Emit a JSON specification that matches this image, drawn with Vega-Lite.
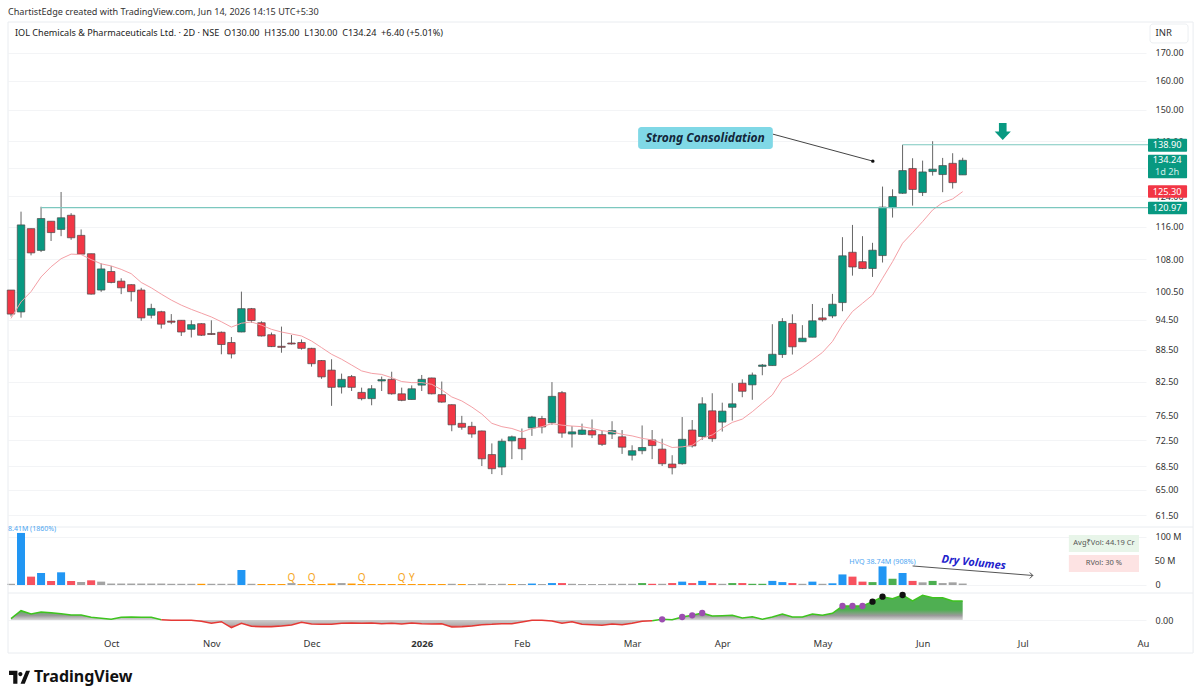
{"$schema":"https://vega.github.io/schema/vega-lite/v6.json","background":"white","padding":{"left":6,"top":0,"right":0,"bottom":0},"bounds":"flush","spacing":0,"config":{"font":"Noto Sans","view":{"stroke":null},"concat":{"spacing":0}},
"datasets":{"ohlc":[
{"i":0,"o":100.9,"h":100.9,"l":95.2,"c":95.7,"ma":94.8},{"i":1,"o":96.15,"h":119.9,"l":94.95,"c":116.45,"ma":98.3},{"i":2,"o":115.5,"h":115.5,"l":108.9,"c":109.5,"ma":100.55},{"i":3,"o":110.1,"h":121.2,"l":109.7,"c":118.1,"ma":103.85},{"i":4,"o":117.4,"h":117.4,"l":112.4,"c":114.5,"ma":106.2},{"i":5,"o":115.3,"h":125.2,"l":113.6,"c":118.3,"ma":108.1},{"i":6,"o":118.95,"h":119.5,"l":112.7,"c":113.2,"ma":109.2},{"i":7,"o":113.8,"h":115.3,"l":109.1,"c":109.2,"ma":109.1},{"i":8,"o":109.3,"h":109.3,"l":99.9,"c":100,"ma":107.9},{"i":9,"o":100.9,"h":107,"l":100.5,"c":105.7,"ma":106.9},
{"i":10,"o":105.1,"h":106.4,"l":102.4,"c":102.6,"ma":106.4},{"i":11,"o":102.9,"h":103.55,"l":100,"c":101.4,"ma":105.6},{"i":12,"o":102.1,"h":102.2,"l":98.4,"c":100.55,"ma":104.6},{"i":13,"o":100.9,"h":101.4,"l":94.3,"c":94.9,"ma":102.6},{"i":14,"o":95.45,"h":97.9,"l":94.8,"c":96.9,"ma":101.4},{"i":15,"o":96.2,"h":96.4,"l":92.7,"c":93.6,"ma":100},{"i":16,"o":94.25,"h":95.7,"l":93.6,"c":94,"ma":98.7},{"i":17,"o":94.4,"h":94.4,"l":91.2,"c":92,"ma":97.6},{"i":18,"o":92.55,"h":94.4,"l":90.9,"c":93.5,"ma":96.7},{"i":19,"o":93.7,"h":93.8,"l":91.2,"c":91.35,"ma":95.9},
{"i":20,"o":91.7,"h":94.4,"l":91.4,"c":91.5,"ma":95.1},{"i":21,"o":91.95,"h":92.1,"l":87.6,"c":89.5,"ma":94.1},{"i":22,"o":89.9,"h":91,"l":86.8,"c":87.65,"ma":93},{"i":23,"o":92,"h":100.55,"l":91.95,"c":96.85,"ma":93.8},{"i":24,"o":96.85,"h":97,"l":93.9,"c":94.35,"ma":94.05},{"i":25,"o":93.9,"h":94.2,"l":91.1,"c":91.2,"ma":93.4},{"i":26,"o":91.45,"h":91.9,"l":89,"c":89.1,"ma":92.55},{"i":27,"o":89.15,"h":93.1,"l":87.9,"c":88.95,"ma":92},{"i":28,"o":89.8,"h":91.4,"l":89.5,"c":89.6,"ma":91.6},{"i":29,"o":89.9,"h":90.5,"l":88.5,"c":88.75,"ma":91.2},
{"i":30,"o":88.75,"h":88.85,"l":85.25,"c":85.8,"ma":90.2},{"i":31,"o":86.4,"h":86.5,"l":83,"c":83.35,"ma":88.9},{"i":32,"o":84.6,"h":86.65,"l":78.2,"c":81.45,"ma":87.6},{"i":33,"o":81.5,"h":83.95,"l":80.35,"c":82.9,"ma":86.65},{"i":34,"o":83.4,"h":83.7,"l":80.8,"c":81.45,"ma":85.55},{"i":35,"o":80.55,"h":81.4,"l":79.15,"c":79.45,"ma":84.45},{"i":36,"o":79.45,"h":81.85,"l":78.3,"c":81.2,"ma":84},{"i":37,"o":82.6,"h":83.4,"l":80.8,"c":82.85,"ma":83.8},{"i":38,"o":82.9,"h":84.3,"l":80.15,"c":80.3,"ma":83.2},{"i":39,"o":80.3,"h":81.4,"l":79,"c":79.15,"ma":82.5},
{"i":40,"o":79.3,"h":81.8,"l":79.3,"c":81.2,"ma":82.3},{"i":41,"o":81.85,"h":83.7,"l":80.8,"c":82.9,"ma":82.3},{"i":42,"o":83.15,"h":83.2,"l":80.2,"c":80.3,"ma":82},{"i":43,"o":80.15,"h":82.5,"l":78.75,"c":78.85,"ma":81},{"i":44,"o":78.4,"h":78.45,"l":73.95,"c":75,"ma":79.75},{"i":45,"o":75.25,"h":76.5,"l":74.2,"c":74.6,"ma":79.05},{"i":46,"o":74.75,"h":75.5,"l":72.9,"c":73.5,"ma":78},{"i":47,"o":74,"h":74.05,"l":68.5,"c":69.6,"ma":76.8},{"i":48,"o":70.25,"h":72,"l":67.3,"c":68.1,"ma":75.25},{"i":49,"o":68.35,"h":72.75,"l":67.15,"c":72.35,"ma":74.7},
{"i":50,"o":72.4,"h":73.25,"l":69.55,"c":73.05,"ma":74.4},{"i":51,"o":72.8,"h":74.4,"l":69.4,"c":71.15,"ma":73.85},{"i":52,"o":74.5,"h":76.5,"l":73.2,"c":76.3,"ma":74.4},{"i":53,"o":76.05,"h":76.5,"l":73.6,"c":74.65,"ma":74.7},{"i":54,"o":75.35,"h":82.4,"l":75,"c":79.85,"ma":75.2},{"i":55,"o":80.5,"h":80.8,"l":72.9,"c":73.65,"ma":74.95},{"i":56,"o":73.5,"h":74.8,"l":71.35,"c":73.85,"ma":74.8},{"i":57,"o":73.45,"h":75.2,"l":73.35,"c":74.15,"ma":74.7},{"i":58,"o":74.05,"h":75.9,"l":72.85,"c":73.35,"ma":74.4},{"i":59,"o":73.4,"h":74,"l":71.6,"c":71.85,"ma":74.05},
{"i":60,"o":73.5,"h":75.6,"l":72.7,"c":74.05,"ma":73.85},{"i":61,"o":73.05,"h":74.15,"l":70.35,"c":71.4,"ma":73.45},{"i":62,"o":70.15,"h":71.7,"l":69.35,"c":70.85,"ma":73.2},{"i":63,"o":70.85,"h":74.9,"l":70.3,"c":71.35,"ma":72.8},{"i":64,"o":72.55,"h":74.15,"l":69.55,"c":71.65,"ma":72.55},{"i":65,"o":71.1,"h":72.75,"l":68.5,"c":68.85,"ma":72},{"i":66,"o":68.8,"h":70.15,"l":67.25,"c":68.25,"ma":71.35},{"i":67,"o":68.85,"h":76.3,"l":68.7,"c":72.65,"ma":71.45},{"i":68,"o":74.15,"h":75.8,"l":71.35,"c":71.6,"ma":71.7},{"i":69,"o":73.1,"h":79.7,"l":72.55,"c":78.55,"ma":72.8},
{"i":70,"o":77.35,"h":80.4,"l":72.25,"c":72.75,"ma":73.35},{"i":71,"o":75.45,"h":78.75,"l":73.9,"c":77.3,"ma":74.45},{"i":72,"o":77.95,"h":82.2,"l":75.7,"c":78.55,"ma":75.4},{"i":73,"o":82.2,"h":82.9,"l":79.7,"c":80.75,"ma":75.95},{"i":74,"o":81.9,"h":84.15,"l":79.25,"c":83.7,"ma":77.2},{"i":75,"o":85.3,"h":85.75,"l":83.65,"c":85.55,"ma":78.65},{"i":76,"o":85.45,"h":93.6,"l":85.45,"c":87.6,"ma":80.1},{"i":77,"o":87.55,"h":94.85,"l":86.9,"c":94.15,"ma":82.9},{"i":78,"o":93.75,"h":95.65,"l":87.55,"c":89.05,"ma":83.9},{"i":79,"o":90.05,"h":93.4,"l":90.05,"c":90.75,"ma":85.15},
{"i":80,"o":90.95,"h":97.85,"l":90.95,"c":94.3,"ma":86.5},{"i":81,"o":94.9,"h":97,"l":94.15,"c":94.5,"ma":87.95},{"i":82,"o":95.3,"h":100.05,"l":94.85,"c":97.8,"ma":90.1},{"i":83,"o":98.15,"h":113.35,"l":96.3,"c":108.8,"ma":93.45},{"i":84,"o":109.65,"h":116.45,"l":104.15,"c":106.15,"ma":96.25},{"i":85,"o":107.4,"h":113.6,"l":105.65,"c":105.8,"ma":98},{"i":86,"o":105.8,"h":111.95,"l":103.85,"c":110.15,"ma":99.8},{"i":87,"o":108.85,"h":126.7,"l":107.2,"c":121.1,"ma":103.55},{"i":88,"o":120.97,"h":125.95,"l":118.35,"c":123.95,"ma":107.4},{"i":89,"o":124.85,"h":138.9,"l":124.7,"c":131.25,"ma":111.85},
{"i":90,"o":131.85,"h":134.85,"l":121.5,"c":125.9,"ma":114.5},{"i":91,"o":125.05,"h":134.15,"l":124.1,"c":130.85,"ma":117.3},{"i":92,"o":130.95,"h":140,"l":129.8,"c":131.65,"ma":120.35},{"i":93,"o":130.1,"h":134.95,"l":125.15,"c":132.7,"ma":122.3},{"i":94,"o":133.35,"h":136.35,"l":126.15,"c":127.8,"ma":123.3},{"i":95,"o":130,"h":135,"l":130,"c":134.24,"ma":125.3}],
"vol":[{"i":0,"v":2.5,"k":"flat"},{"i":1,"v":108.4,"k":"hi"},{"i":2,"v":17.4,"k":"dn"},{"i":3,"v":25,"k":"hi"},{"i":4,"v":8.3,"k":"dn"},{"i":5,"v":26.4,"k":"hi"},{"i":6,"v":8.3,"k":"dn"},{"i":7,"v":6.2,"k":"flat"},{"i":8,"v":9.7,"k":"dn"},{"i":9,"v":7,"k":"flat"},{"i":10,"v":3,"k":"flat"},{"i":11,"v":3,"k":"flat"},{"i":12,"v":3,"k":"flat"},{"i":13,"v":3,"k":"flat"},{"i":14,"v":3,"k":"flat"},{"i":15,"v":3,"k":"flat"},{"i":16,"v":2.5,"k":"flat"},{"i":17,"v":2.5,"k":"flat"},{"i":18,"v":2.5,"k":"flat"},{"i":19,"v":2.5,"k":"dry"},{"i":20,"v":2.5,"k":"flat"},{"i":21,"v":2.5,"k":"flat"},{"i":22,"v":2.5,"k":"flat"},{"i":23,"v":31.2,"k":"hi"},{"i":24,"v":2.5,"k":"flat"},{"i":25,"v":2,"k":"dry"},{"i":26,"v":2,"k":"dry"},{"i":27,"v":2,"k":"dry"},{"i":28,"v":4,"k":"flat"},{"i":29,"v":2,"k":"dry"},{"i":30,"v":2,"k":"dry"},{"i":31,"v":2,"k":"dry"},{"i":32,"v":3,"k":"dry"},{"i":33,"v":4,"k":"flat"},{"i":34,"v":3,"k":"dry"},{"i":35,"v":2,"k":"dry"},{"i":36,"v":2,"k":"dry"},{"i":37,"v":2,"k":"dry"},{"i":38,"v":2,"k":"dry"},{"i":39,"v":2,"k":"dry"},{"i":40,"v":2,"k":"dry"},{"i":41,"v":2,"k":"dry"},{"i":42,"v":2,"k":"dry"},{"i":43,"v":2,"k":"dry"},{"i":44,"v":2.5,"k":"flat"},{"i":45,"v":2,"k":"dry"},{"i":46,"v":2,"k":"flat"},{"i":47,"v":3,"k":"flat"},{"i":48,"v":2,"k":"flat"},{"i":49,"v":2.5,"k":"flat"},{"i":50,"v":2,"k":"dry"},{"i":51,"v":2,"k":"flat"},{"i":52,"v":3,"k":"hi"},{"i":53,"v":2,"k":"flat"},{"i":54,"v":4,"k":"hi"},{"i":55,"v":4,"k":"dn"},{"i":56,"v":2.5,"k":"flat"},{"i":57,"v":2,"k":"flat"},{"i":58,"v":2,"k":"flat"},{"i":59,"v":2,"k":"flat"},{"i":60,"v":2.5,"k":"flat"},{"i":61,"v":2.5,"k":"flat"},{"i":62,"v":2.5,"k":"flat"},{"i":63,"v":4,"k":"up"},{"i":64,"v":2.5,"k":"dn"},{"i":65,"v":2.5,"k":"flat"},{"i":66,"v":4,"k":"dn"},{"i":67,"v":7,"k":"hi"},{"i":68,"v":4,"k":"dn"},{"i":69,"v":8.5,"k":"hi"},{"i":70,"v":4,"k":"dn"},{"i":71,"v":2.5,"k":"flat"},{"i":72,"v":4,"k":"up"},{"i":73,"v":4,"k":"dn"},{"i":74,"v":2.5,"k":"up"},{"i":75,"v":2.5,"k":"up"},{"i":76,"v":8.5,"k":"hi"},{"i":77,"v":6,"k":"hi"},{"i":78,"v":4,"k":"dn"},{"i":79,"v":2.5,"k":"flat"},{"i":80,"v":7,"k":"hi"},{"i":81,"v":2.5,"k":"flat"},{"i":82,"v":3.5,"k":"hi"},{"i":83,"v":22,"k":"hi"},{"i":84,"v":17.4,"k":"dn"},{"i":85,"v":7,"k":"dn"},{"i":86,"v":6,"k":"up"},{"i":87,"v":38.74,"k":"hi"},{"i":88,"v":13,"k":"up"},{"i":89,"v":25,"k":"hi"},{"i":90,"v":8.5,"k":"dn"},{"i":91,"v":5.5,"k":"flat"},{"i":92,"v":8.5,"k":"up"},{"i":93,"v":4,"k":"flat"},{"i":94,"v":5.5,"k":"flat"},{"i":95,"v":3,"k":"flat"}],
"ind":[{"i":0,"g":0.04},{"i":1,"g":0.28},{"i":2,"g":0.18},{"i":3,"g":0.24},{"i":4,"g":0.22},{"i":5,"g":0.19},{"i":6,"g":0.15},{"i":7,"g":0.15},{"i":8,"g":0.08},{"i":9,"g":0.05},{"i":10,"g":0.02},{"i":11,"g":0.08},{"i":12,"g":0.09},{"i":13,"g":0.08},{"i":14,"g":0.08},{"i":15,"g":0.01,"r":0.01},{"i":16,"r":-0.01},{"i":17,"r":-0.01},{"i":18,"r":-0.01},{"i":19,"r":-0.04},{"i":20,"r":-0.1},{"i":21,"r":-0.05},{"i":22,"r":-0.23},{"i":23,"r":-0.1},{"i":24,"r":-0.19},{"i":25,"r":-0.2},{"i":26,"r":-0.2},{"i":27,"r":-0.18},{"i":28,"r":-0.15},{"i":29,"r":-0.07},{"i":30,"r":-0.12},{"i":31,"r":-0.13},{"i":32,"r":-0.13},{"i":33,"r":-0.1},{"i":34,"r":-0.09},{"i":35,"r":-0.1},{"i":36,"r":-0.09},{"i":37,"r":-0.11},{"i":38,"r":-0.1},{"i":39,"r":-0.12},{"i":40,"r":-0.09},{"i":41,"r":-0.11},{"i":42,"r":-0.12},{"i":43,"r":-0.11},{"i":44,"r":-0.21},{"i":45,"r":-0.2},{"i":46,"r":-0.18},{"i":47,"r":-0.14},{"i":48,"r":-0.13},{"i":49,"r":-0.11},{"i":50,"r":-0.11},{"i":51,"r":-0.06},{"i":52,"r":-0.01},{"i":53,"r":-0.01},{"i":54,"r":-0.03},{"i":55,"r":-0.1},{"i":56,"r":-0.05},{"i":57,"r":-0.13},{"i":58,"r":-0.14},{"i":59,"r":-0.16},{"i":60,"r":-0.12},{"i":61,"r":-0.14},{"i":62,"r":-0.1},{"i":63,"r":-0.04},{"i":64,"r":-0.02,"g":-0.02},{"i":65,"g":0.02},{"i":66,"g":0.01},{"i":67,"g":0.09},{"i":68,"g":0.14},{"i":69,"g":0.21},{"i":70,"g":0.12},{"i":71,"g":0.13},{"i":72,"g":0.14},{"i":73,"g":0.06},{"i":74,"g":0.1},{"i":75,"g":0.02},{"i":76,"g":0.09},{"i":77,"g":0.18},{"i":78,"g":0.09},{"i":79,"g":0.09},{"i":80,"g":0.18},{"i":81,"g":0.14},{"i":82,"g":0.2},{"i":83,"g":0.42},{"i":84,"g":0.42},{"i":85,"g":0.42},{"i":86,"g":0.55},{"i":87,"g":0.7},{"i":88,"g":0.64},{"i":89,"g":0.75},{"i":90,"g":0.57},{"i":91,"g":0.74},{"i":92,"g":0.67},{"i":93,"g":0.67},{"i":94,"g":0.57},{"i":95,"g":0.57}]},
"vconcat":[
{"width":1138,"height":22,"data":{"values":[{"x":-0.3,"y":0.45,"t":"ChartistEdge created with TradingView.com, Jun 14, 2026 14:15 UTC+5:30"}]},"mark":{"type":"text","align":"left","baseline":"middle","fontSize":9.1,"color":"#333333"},"encoding":{"x":{"field":"x","type":"quantitative","scale":{"domain":[-0.3,113.3]},"axis":null},"y":{"field":"y","type":"quantitative","scale":{"domain":[0,1]},"axis":null},"text":{"field":"t"}}},
{"width":1138,"height":505,"layer":[
{"data":{"name":"ohlc"},"mark":{"type":"rule","stroke":"#666666","strokeWidth":1},"encoding":{"x":{"field":"i","type":"quantitative","scale":{"domain":[-0.3,113.3],"nice":false,"zero":false,"padding":0},"axis":null},"y":{"field":"l","type":"quantitative","scale":{"type":"log","domain":[59.9,182],"nice":false},"axis":{"orient":"right","title":null,"values":[61.5,65,68.5,72.5,76.5,82.5,88.5,94.5,100.5,108,116,124,132,140,150,160,170],"format":".2f","domain":false,"ticks":false,"grid":true,"gridColor":"#f3f4f6","labelPadding":9,"labelFontSize":9,"labelColor":"#333333","labelOverlap":false,"labelFlush":false}},"y2":{"field":"h"}}},
{"data":{"values":[{"a":-0.3,"b":118,"p":182},{"a":-0.3,"b":118,"p":59.9}]},"mark":{"type":"rule","stroke":"#e9ecf0","strokeWidth":1},"encoding":{"x":{"field":"a","type":"quantitative"},"x2":{"field":"b"},"y":{"field":"p","type":"quantitative"}}},
{"data":{"values":[{"a":-0.3,"t":182,"b":59.9},{"a":118,"t":182,"b":59.9}]},"mark":{"type":"rule","stroke":"#e9ecf0","strokeWidth":1},"encoding":{"x":{"field":"a","type":"quantitative"},"y":{"field":"t","type":"quantitative"},"y2":{"field":"b"}}},
{"data":{"name":"ohlc"},"mark":{"type":"bar","width":7.5,"stroke":"#4b4b4b","strokeWidth":0.7},"encoding":{"x":{"field":"i","type":"quantitative"},"y":{"field":"o","type":"quantitative"},"y2":{"field":"c"},"color":{"condition":{"test":"datum.c>=datum.o","value":"#089981"},"value":"#F23645"}}},
{"data":{"name":"ohlc"},"mark":{"type":"line","stroke":"#F4A0A6","strokeWidth":1},"encoding":{"x":{"field":"i","type":"quantitative"},"y":{"field":"ma","type":"quantitative"}}},
{"data":{"values":[{"a":89,"b":113.5,"p":138.9},{"a":3,"b":113.5,"p":120.97}]},"mark":{"type":"rule","stroke":"#7CC8BF","strokeWidth":1.1},"encoding":{"x":{"field":"a","type":"quantitative"},"x2":{"field":"b"},"y":{"field":"p","type":"quantitative"}}},
{"data":{"values":[{"a":76.05,"p":142.2,"b":86.03,"q":134}]},"mark":{"type":"rule","stroke":"#444444","strokeWidth":1},"encoding":{"x":{"field":"a","type":"quantitative"},"x2":{"field":"b"},"y":{"field":"p","type":"quantitative"},"y2":{"field":"q"}}},
{"data":{"values":[{"b":86.03,"q":134}]},"mark":{"type":"point","filled":true,"size":12,"color":"#111111","opacity":1},"encoding":{"x":{"field":"b","type":"quantitative"},"y":{"field":"q","type":"quantitative"}}},
{"data":{"values":[{"a":62.6,"b":76.05,"p":144.45,"q":137.6}]},"mark":{"type":"rect","fill":"#80D8E6","cornerRadius":3},"encoding":{"x":{"field":"a","type":"quantitative"},"x2":{"field":"b"},"y":{"field":"p","type":"quantitative"},"y2":{"field":"q"}}},
{"data":{"values":[{"x":69.3,"p":140.9,"t":"Strong Consolidation"}]},"mark":{"type":"text","fontSize":12,"fontStyle":"italic","fontWeight":"bold","color":"#12263a","baseline":"middle"},"encoding":{"x":{"field":"x","type":"quantitative"},"y":{"field":"p","type":"quantitative"},"text":{"field":"t"}}},
{"data":{"values":[{"x":99,"p":143}]},"mark":{"type":"point","filled":true,"size":289,"opacity":1,"color":"#089981","shape":"M-0.45,-1 L0.45,-1 L0.45,0 L0.95,0 L0,1 L-0.95,0 L-0.45,0 Z"},"encoding":{"x":{"field":"x","type":"quantitative"},"y":{"field":"p","type":"quantitative"}}},
{"data":{"values":[{"x":0.4,"p":177.65,"t":"IOL Chemicals & Pharmaceuticals Ltd. · 2D · NSE \u00a0O130.00 \u00a0H135.00 \u00a0L130.00 \u00a0C134.24 \u00a0+6.40 (+5.01%)"}]},"mark":{"type":"text","align":"left","baseline":"middle","fontSize":9.1,"color":"#222222"},"encoding":{"x":{"field":"x","type":"quantitative"},"y":{"field":"p","type":"quantitative"},"text":{"field":"t"}}},
{"data":{"values":[{"a":113.7,"b":117.5,"p":181.2,"q":173.8}]},"mark":{"type":"rect","fill":"#ffffff","stroke":"#eceff2","cornerRadius":3},"encoding":{"x":{"field":"a","type":"quantitative"},"x2":{"field":"b"},"y":{"field":"p","type":"quantitative"},"y2":{"field":"q"}}},
{"data":{"values":[{"x":115.07,"p":177.65,"t":"INR"}]},"mark":{"type":"text","baseline":"middle","fontSize":9.5,"color":"#333333"},"encoding":{"x":{"field":"x","type":"quantitative"},"y":{"field":"p","type":"quantitative"},"text":{"field":"t"}}},
{"data":{"values":[{"a":113.5,"b":117.4,"p":140.78,"q":136.8,"k":"up"},{"a":113.5,"b":117.4,"p":135.9,"q":129.03,"k":"up"},{"a":113.5,"b":117.4,"p":127.06,"q":123.64,"k":"dn"},{"a":113.5,"b":117.4,"p":122.56,"q":119.2,"k":"up"}]},"mark":{"type":"rect","cornerRadius":1},"encoding":{"x":{"field":"a","type":"quantitative"},"x2":{"field":"b"},"y":{"field":"p","type":"quantitative"},"y2":{"field":"q"},"color":{"condition":{"test":"datum.k=='dn'","value":"#F23645"},"value":"#089981"}}},
{"data":{"values":[{"x":115.4,"p":138.9,"t":"138.90","c":"a"},{"x":115.4,"p":134.24,"t":"134.24","c":"a"},{"x":115.4,"p":130.8,"t":"1d 2h","c":"b"},{"x":115.4,"p":125.3,"t":"125.30","c":"a"},{"x":115.4,"p":120.97,"t":"120.97","c":"a"}]},"mark":{"type":"text","baseline":"middle","fontSize":9.2},"encoding":{"x":{"field":"x","type":"quantitative"},"y":{"field":"p","type":"quantitative"},"text":{"field":"t"},"color":{"condition":{"test":"datum.c=='b'","value":"#cfeee8"},"value":"#ffffff"}}}
]},
{"width":1138,"height":66,"layer":[
{"data":{"name":"vol"},"mark":{"type":"bar","width":8},"encoding":{"x":{"field":"i","type":"quantitative","scale":{"domain":[-0.3,113.3],"nice":false,"zero":false,"padding":0},"axis":null},"y":{"field":"v","type":"quantitative","scale":{"domain":[-16.7,120.8],"nice":false},"axis":{"orient":"right","title":null,"values":[0,50,100],"labelExpr":"datum.value==0?'0':(datum.value==50?'50 M':'100 M')","domain":false,"ticks":false,"grid":true,"gridColor":"#f3f4f6","labelPadding":9,"labelFontSize":9,"labelColor":"#333333","labelOverlap":false,"labelFlush":false,"labelSeparation":0}},"color":{"field":"k","type":"nominal","legend":null,"scale":{"domain":["flat","hi","dn","up","dry"],"range":["#A3A3A3","#2196F3","#F7525F","#4CAF50","#FF9800"]}}}},
{"data":{"values":[{"x":114.17,"p":50,"t":"50 M"}]},"mark":{"type":"text","align":"left","baseline":"middle","fontSize":9,"color":"#333333"},"encoding":{"x":{"field":"x","type":"quantitative"},"y":{"field":"p","type":"quantitative"},"text":{"field":"t"}}},
{"data":{"values":[{"a":-0.3,"b":118,"p":-16.7}]},"mark":{"type":"rule","stroke":"#e9ecf0","strokeWidth":1},"encoding":{"x":{"field":"a","type":"quantitative"},"x2":{"field":"b"},"y":{"field":"p","type":"quantitative"}}},
{"data":{"values":[{"a":-0.3,"t":120.8,"b":-16.7},{"a":118,"t":120.8,"b":-16.7}]},"mark":{"type":"rule","stroke":"#e9ecf0","strokeWidth":1},"encoding":{"x":{"field":"a","type":"quantitative"},"y":{"field":"t","type":"quantitative"},"y2":{"field":"b"}}},
{"data":{"values":[{"x":-0.3,"p":116.7,"t":"8.41M (1860%)"}]},"mark":{"type":"text","align":"left","baseline":"middle","fontSize":7,"color":"#4DA6F2"},"encoding":{"x":{"field":"x","type":"quantitative"},"y":{"field":"p","type":"quantitative"},"text":{"field":"t"}}},
{"data":{"values":[{"x":87,"p":48,"t":"HVQ 38.74M (908%)"}]},"mark":{"type":"text","baseline":"middle","fontSize":7.2,"color":"#4DA6F2"},"encoding":{"x":{"field":"x","type":"quantitative"},"y":{"field":"p","type":"quantitative"},"text":{"field":"t"}}},
{"data":{"values":[{"x":28,"t":"Q","p":14.6},{"x":30,"t":"Q","p":14.6},{"x":35,"t":"Q","p":14.6},{"x":39,"t":"Q","p":14.6},{"x":40,"t":"Y","p":14.6}]},"mark":{"type":"text","baseline":"middle","fontSize":10,"color":"#F5A623"},"encoding":{"x":{"field":"x","type":"quantitative"},"y":{"field":"p","type":"quantitative"},"text":{"field":"t"}}},
{"data":{"values":[{"x":96.1,"p":45.8,"t":"Dry Volumes"}]},"mark":{"type":"text","baseline":"middle","fontSize":11,"fontStyle":"italic","fontWeight":"bold","color":"#2222CC","angle":6},"encoding":{"x":{"field":"x","type":"quantitative"},"y":{"field":"p","type":"quantitative"},"text":{"field":"t"}}},
{"data":{"values":[{"a":90,"p":39.6,"b":102,"q":19.8}]},"mark":{"type":"rule","stroke":"#555555","strokeWidth":1},"encoding":{"x":{"field":"a","type":"quantitative"},"x2":{"field":"b"},"y":{"field":"p","type":"quantitative"},"y2":{"field":"q"}}},
{"data":{"values":[{"b":102,"q":19.8}]},"mark":{"type":"point","filled":false,"size":36,"stroke":"#444444","strokeWidth":1,"opacity":1,"shape":"M-1,-1 L0,0 L-1,1"},"encoding":{"x":{"field":"b","type":"quantitative"},"y":{"field":"q","type":"quantitative"}}},
{"data":{"values":[{"a":105.6,"b":112.6,"p":104.2,"q":68.75,"k":"g"},{"a":105.6,"b":112.6,"p":62.5,"q":27.1,"k":"r"}]},"mark":{"type":"rect"},"encoding":{"x":{"field":"a","type":"quantitative"},"x2":{"field":"b"},"y":{"field":"p","type":"quantitative"},"y2":{"field":"q"},"fill":{"condition":{"test":"datum.k=='g'","value":"#E8F5E9"},"value":"#FDE3E3"}}},
{"data":{"values":[{"x":109.1,"p":86.5,"t":"Avg₹Vol: 44.19 Cr"},{"x":109.1,"p":44.8,"t":"RVol: 30 %"}]},"mark":{"type":"text","baseline":"middle","fontSize":7.5,"color":"#555555"},"encoding":{"x":{"field":"x","type":"quantitative"},"y":{"field":"p","type":"quantitative"},"text":{"field":"t"}}}
],"resolve":{"scale":{"color":"independent"}}},
{"width":1138,"height":40,"layer":[
{"data":{"name":"ind"},"mark":{"type":"area","color":{"x1":0,"y1":0,"x2":0,"y2":1,"gradient":"linear","stops":[{"offset":0,"color":"#4FAF52"},{"offset":0.58,"color":"#4FAF52"},{"offset":0.8,"color":"#9A9A9A"},{"offset":1,"color":"#E2E2E2"}]}},"encoding":{"x":{"field":"i","type":"quantitative","scale":{"domain":[-0.3,113.3],"nice":false,"zero":false},"axis":{"title":null,"values":[10,20,30,41,51,62,71,81,91,101,113],"labelExpr":"['Oct','Nov','Dec','2026','Feb','Mar','Apr','May','Jun','Jul','Au'][indexof([10,20,30,41,51,62,71,81,91,101,113],datum.value)]","domain":false,"ticks":false,"grid":false,"labelPadding":5,"labelFontSize":9.5,"labelColor":"#333333","labelFlush":false,"labelOverlap":false,"labelFontWeight":{"condition":{"test":"datum.value==41","value":"bold"},"value":"normal"}}},"y":{"field":"g","type":"quantitative","scale":{"domain":[-0.39,0.81],"nice":false},"axis":{"orient":"right","title":null,"values":[0],"format":".2f","domain":false,"ticks":false,"grid":true,"gridColor":"#f3f4f6","labelPadding":9,"labelFontSize":9,"labelColor":"#333333"}},"y2":{"datum":0}}},
{"data":{"name":"ind"},"mark":{"type":"area","color":{"x1":0,"y1":0,"x2":0,"y2":1,"gradient":"linear","stops":[{"offset":0,"color":"#D0D0D0"},{"offset":0.6,"color":"#B8B0B0"},{"offset":1,"color":"#E05555"}]}},"encoding":{"x":{"field":"i","type":"quantitative"},"y":{"field":"r","type":"quantitative"},"y2":{"datum":0}}},
{"data":{"name":"ind"},"mark":{"type":"line","stroke":"#3EC41E","strokeWidth":1.5},"encoding":{"x":{"field":"i","type":"quantitative"},"y":{"field":"g","type":"quantitative"}}},
{"data":{"name":"ind"},"mark":{"type":"line","stroke":"#E53935","strokeWidth":1.5},"encoding":{"x":{"field":"i","type":"quantitative"},"y":{"field":"r","type":"quantitative"}}},
{"data":{"values":[{"i":65,"v":0.02,"k":"p"},{"i":67,"v":0.09,"k":"p"},{"i":68,"v":0.14,"k":"p"},{"i":69,"v":0.21,"k":"p"},{"i":83,"v":0.42,"k":"p"},{"i":84,"v":0.42,"k":"p"},{"i":85,"v":0.42,"k":"p"},{"i":86,"v":0.55,"k":"b"},{"i":87,"v":0.7,"k":"b"},{"i":89,"v":0.75,"k":"b"}]},"mark":{"type":"point","filled":true,"size":40,"opacity":1},"encoding":{"x":{"field":"i","type":"quantitative"},"y":{"field":"v","type":"quantitative"},"color":{"condition":{"test":"datum.k=='b'","value":"#111111"},"value":"#9C4DB0"}}},
{"data":{"values":[{"a":-0.3,"b":118,"p":-0.99}]},"mark":{"type":"rule","stroke":"#e9ecf0","strokeWidth":1},"encoding":{"x":{"field":"a","type":"quantitative"},"x2":{"field":"b"},"y":{"field":"p","type":"quantitative"}}},
{"data":{"values":[{"a":-0.3,"t":0.81,"b":-0.99},{"a":118,"t":0.81,"b":-0.99}]},"mark":{"type":"rule","stroke":"#e9ecf0","strokeWidth":1},"encoding":{"x":{"field":"a","type":"quantitative"},"y":{"field":"t","type":"quantitative"},"y2":{"field":"b"}}}
]},
{"width":1138,"height":67,"layer":[
{"data":{"values":[{"x":0.85,"y":0.66}]},"mark":{"type":"point","filled":true,"size":441,"opacity":1,"color":"#111111","shape":"M-1,-0.62 H-0.2 V0.62 H-0.6 V-0.2 H-1 Z M-0.12,-0.3 a0.2,0.2 0 1,0 0.4,0 a0.2,0.2 0 1,0 -0.4,0 Z M0.62,-0.62 H1 L0.5,0.62 H0.1 Z"},"encoding":{"x":{"field":"x","type":"quantitative","scale":{"domain":[-0.3,113.3],"nice":false,"zero":false},"axis":null},"y":{"field":"y","type":"quantitative","scale":{"domain":[1,0],"nice":false},"axis":null}}},
{"data":{"values":[{"x":2.3,"y":0.66,"t":"TradingView"}]},"mark":{"type":"text","align":"left","baseline":"middle","fontSize":16,"fontWeight":"bold","color":"#111111"},"encoding":{"x":{"field":"x","type":"quantitative"},"y":{"field":"y","type":"quantitative"},"text":{"field":"t"}}}
]}
]}
